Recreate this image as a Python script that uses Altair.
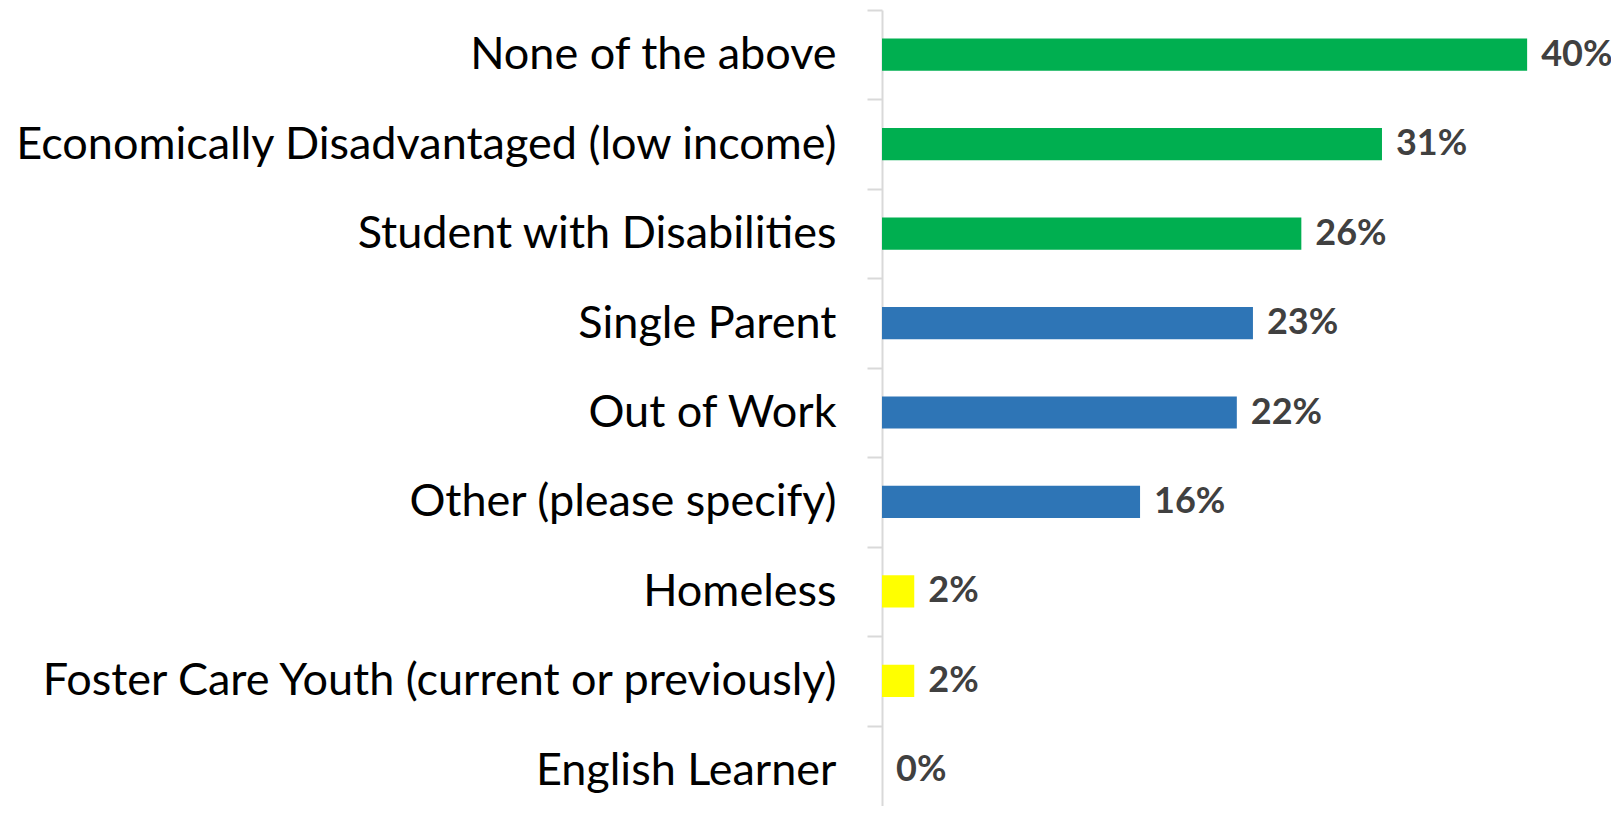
import altair as alt
import pandas as pd

categories = [
    "None of the above",
    "Economically Disadvantaged (low income)",
    "Student with Disabilities",
    "Single Parent",
    "Out of Work",
    "Other (please specify)",
    "Homeless",
    "Foster Care Youth (current or previously)",
    "English Learner",
]
values = [40, 31, 26, 23, 22, 16, 2, 2, 0]
groups = ["top", "top", "top", "middle", "middle", "middle", "low", "low", "low"]

df = pd.DataFrame({"category": categories, "value": values, "group": groups})
df["label"] = df["value"].astype(str) + "%"

y_enc = alt.Y(
    "category:N",
    sort=categories,
    title=None,
    scale=alt.Scale(paddingInner=0, paddingOuter=0, range=[0, 805]),
    axis=alt.Axis(
        domainColor="#D9D9D9",
        domainWidth=2,
        tickColor="#D9D9D9",
        tickWidth=2,
        tickSize=15,
        tickBand="extent",
        labelFont="Lato",
        labelFontSize=45,
        labelColor="#000000",
        labelPadding=31,
        labelLimit=0,
    ),
)
x_enc = alt.X("value:Q", axis=None, scale=alt.Scale(domain=[0, 45.2], nice=False, zero=True))

bars = alt.Chart(df).mark_bar(height={"band": 0.36}).encode(
    x=x_enc,
    y=y_enc,
    color=alt.Color(
        "group:N",
        legend=None,
        scale=alt.Scale(domain=["top", "middle", "low"], range=["#00AF50", "#2E75B6", "#FFFF00"]),
    ),
)

text = alt.Chart(df).mark_text(
    align="left", baseline="middle", dx=14, font="Lato", fontSize=36, fontWeight="bold", color="#404040"
).encode(x=x_enc, y=y_enc, text="label:N")

chart = (
    (bars + text)
    .properties(
        width=729,
        height=796,
        autosize=alt.AutoSizeParams(type="none"),
        padding={"left": 874, "top": 2, "right": 0, "bottom": 0},
    )
    .configure_view(stroke=None)
)

chart.save("out.html", embed_options={"renderer": "svg", "actions": False})
